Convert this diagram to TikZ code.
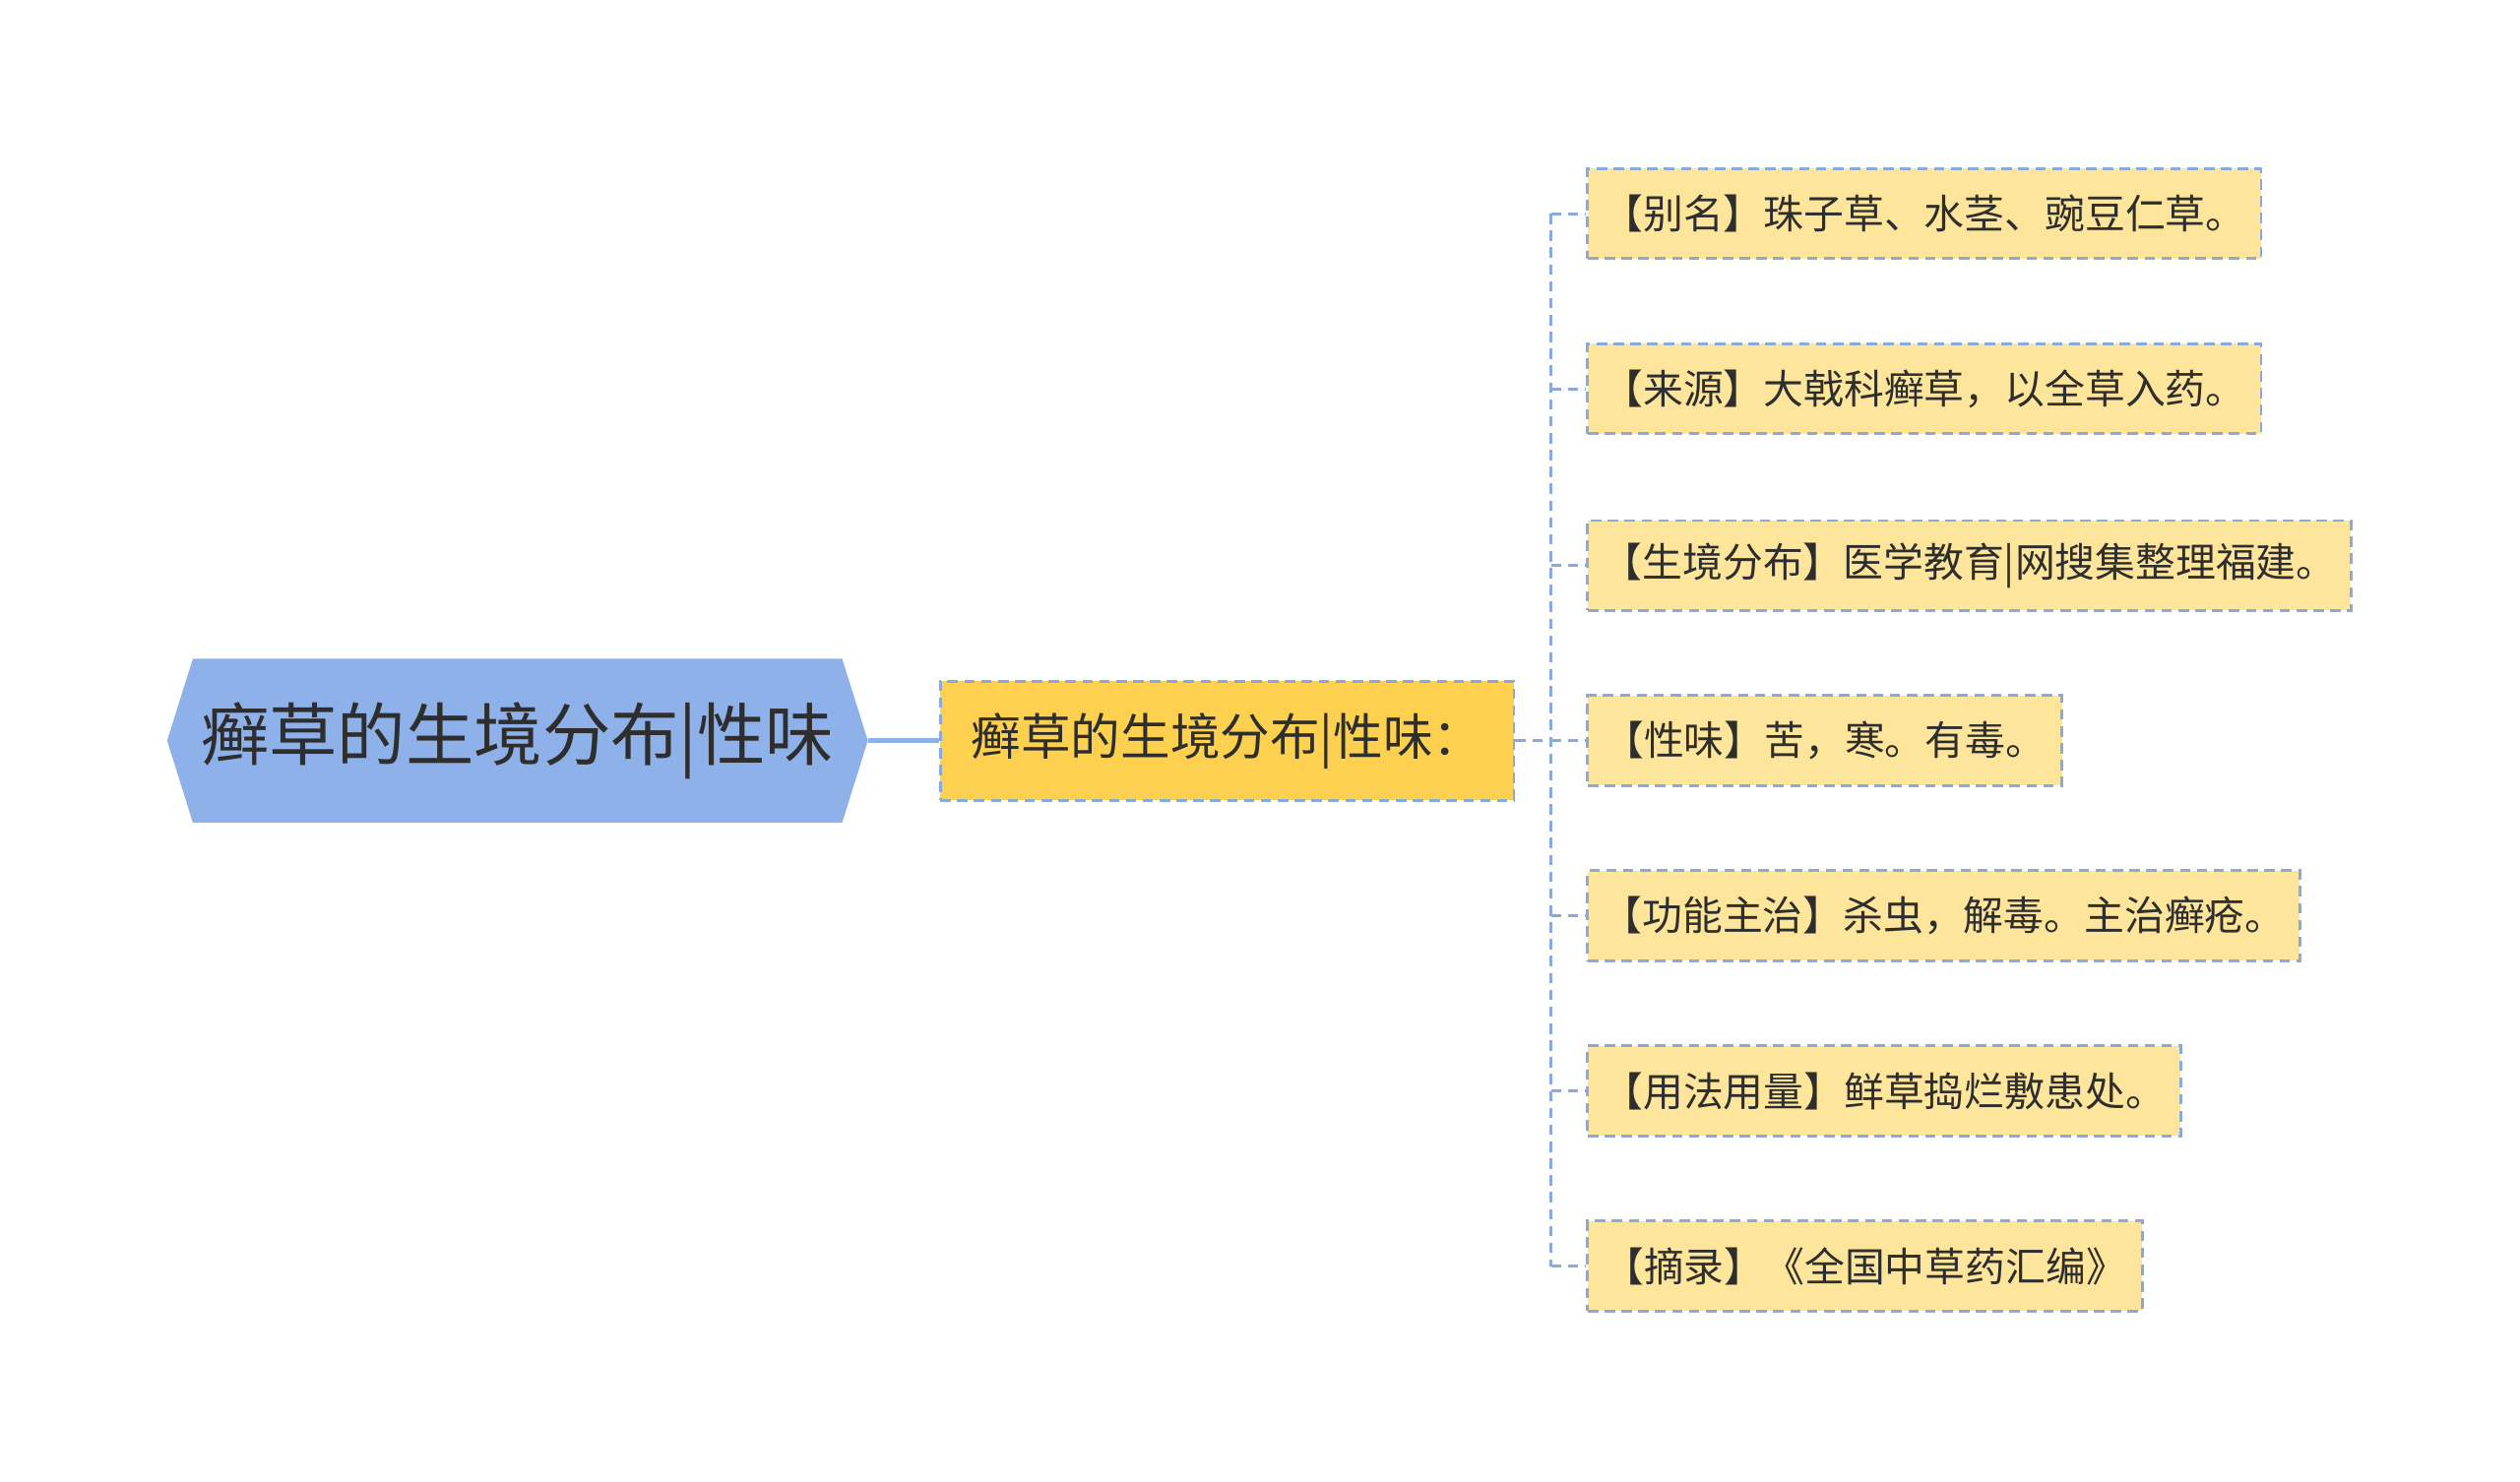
\documentclass[tikz,border=0pt]{standalone}
\usepackage{fontspec}
\setmainfont{Noto Sans CJK SC}
\definecolor{rootfill}{HTML}{8EB1EA}
\definecolor{midfill}{HTML}{FDD04F}
\definecolor{leaffill}{HTML}{FDE59B}
\definecolor{dashc}{HTML}{8AAADB}
\definecolor{txt}{HTML}{2E2E2E}
\begin{document}
\begin{tikzpicture}[x=1pt,y=-1pt,
  dashline/.style={draw=dashc, line width=1.8pt, dash pattern=on 6.5pt off 4pt},
  leaf/.style={dashline, fill=leaffill, minimum height=56pt, anchor=west, inner sep=0pt,
    font=\fontsize{25}{27}\selectfont, text=txt},
  midbox/.style={dashline, fill=midfill, minimum width=357pt, minimum height=74pt, inner sep=0pt,
    font=\fontsize{31}{33}\selectfont, text=txt},
  rootbox/.style={minimum width=436pt, minimum height=102pt, inner sep=0pt,
    font=\fontsize{42.5}{44}\selectfont, text=txt},
  rootline/.style={draw=rootfill, line width=3pt}
]
\useasboundingbox (0,0) rectangle (1568,922);
% root hexagon
\fill[rootfill] (104,461) -- (120,410) -- (524,410) -- (540,461) -- (524,512) -- (120,512) -- cycle;
\node[rootbox] (root) at (322,461) {癣草的生境分布|性味};
% middle
\node[midbox] (mid) at (763.5,461) {癣草的生境分布|性味：};
\draw[rootline] (root.east) -- (mid.west);
% leaves
\node[leaf, minimum width=419pt] (l1) at (987,133) {【别名】珠子草、水茎、豌豆仁草。};
\node[leaf, minimum width=419pt] (l2) at (987,242) {【来源】大戟科癣草，以全草入药。};
\node[leaf, minimum width=475pt] (l3) at (987,352) {【生境分布】医学教育|网搜集整理福建。};
\node[leaf, minimum width=295pt] (l4) at (987,461) {【性味】苦，寒。有毒。};
\node[leaf, minimum width=443pt] (l5) at (987,570) {【功能主治】杀虫，解毒。主治癣疮。};
\node[leaf, minimum width=369pt] (l6) at (987,679) {【用法用量】鲜草捣烂敷患处。};
\node[leaf, minimum width=345pt] (l7) at (987,788) {【摘录】《全国中草药汇编》};
% connectors
\coordinate (hub) at (965,461);
\draw[dashline] (mid.east) -- (hub);
\draw[dashline] (hub |- l1.west) -- (hub |- l7.west);
\foreach \i in {1,...,7} {
  \draw[dashline] (hub |- l\i.west) -- (l\i.west);
}
\end{tikzpicture}
\end{document}
